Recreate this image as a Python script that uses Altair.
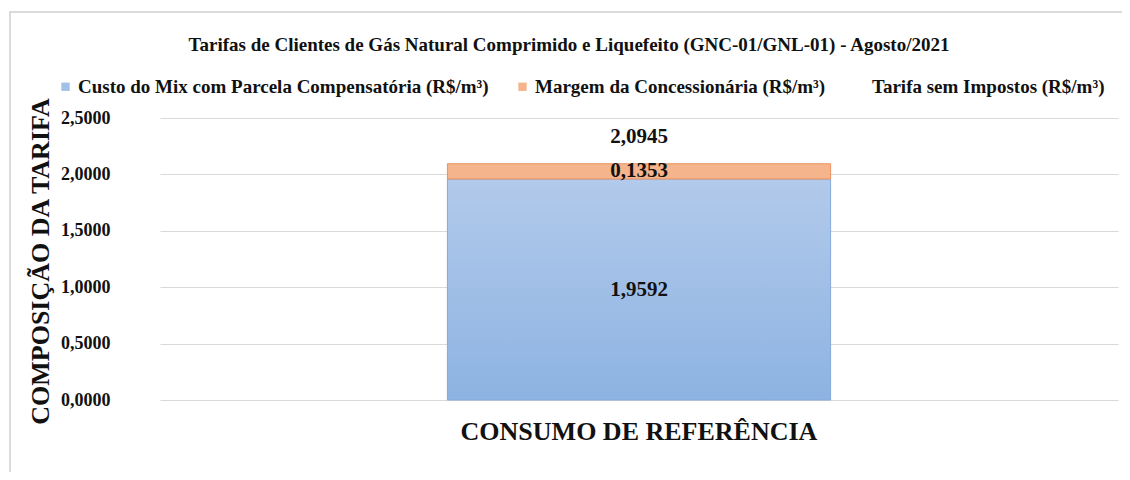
import altair as alt
import pandas as pd

categories = ["CONSUMO DE REFERÊNCIA"]
series = [
    "Custo do Mix com Parcela Compensatória (R$/m³)",
    "Margem da Concessionária (R$/m³)",
    "Tarifa sem Impostos (R$/m³)",
]
custo_mix = [1.9592]
margem = [0.1353]
tarifa_total = [2.0945]
colors = ["#a3c1e7", "#f5b48c", "transparent"]
strokes = ["#86a8d8", "#e8935e"]
blue_stops = ["#b2caeb", "#8db3e2"]
chart_title = "Tarifas de Clientes de Gás Natural Comprimido e Liquefeito (GNC-01/GNL-01) - Agosto/2021"

rows = []
for i, c in enumerate(categories):
    rows.append({"cat": c, "serie": series[0], "valor": custo_mix[i], "ordem": 0})
    rows.append({"cat": c, "serie": series[1], "valor": margem[i], "ordem": 1})
df = pd.DataFrame(rows)
df_total = pd.DataFrame({"cat": categories, "valor": tarifa_total})
df_title = pd.DataFrame({"t": [chart_title]})

FONT = "Liberation Serif"
fmt = "replace(format(datum.valor, '.4f'), '.', ',')"

x_enc = alt.X(
    "cat:N",
    title=None,
    scale=alt.Scale(paddingInner=0, paddingOuter=0.75),
    axis=alt.Axis(
        labelFont=FONT, labelFontSize=26, labelFontWeight="bold", labelColor="#111",
        labelAngle=0, labelPadding=18, ticks=False, domain=False, grid=False, labelLimit=800,
    ),
)
y_scale = alt.Scale(domain=[0, 2.5], nice=False)

base = alt.Chart(df).transform_stack(
    stack="valor", groupby=["cat"], as_=["y0", "y1"], sort=[alt.SortField("ordem")]
).transform_calculate(
    mid="(datum.y0 + datum.y1) / 2", rotulo=fmt
)

legend = alt.Legend(
    title=None, orient="none", direction="horizontal", legendX=-104, legendY=-41,
    symbolType="square", symbolSize=70, symbolStrokeWidth=0,
    labelFont=FONT, labelFontSize=19, labelFontWeight="bold", labelColor="#111",
    labelOffset=3, columnPadding=24, labelLimit=800,
)
color_enc = alt.Color("serie:N", scale=alt.Scale(domain=series, range=colors), legend=legend)

y_enc = alt.Y(
    "y0:Q",
    scale=y_scale,
    title="COMPOSIÇÃO DA TARIFA",
    axis=alt.Axis(
        values=[0, 0.5, 1, 1.5, 2, 2.5],
        labelExpr="replace(format(datum.value, '.4f'), '.', ',')",
        labelFont=FONT, labelFontSize=18, labelFontWeight="bold", labelColor="#111",
        labelPadding=50, ticks=False, domain=False,
        gridColor="#d9d9d9", gridWidth=1,
        titleFont=FONT, titleFontSize=26, titleFontWeight="bold", titleColor="#111",
        titleX=-120, titleY=143, titleAngle=-90, titleAlign="center", titleBaseline="middle",
    ),
)

blue_gradient = alt.Gradient(
    gradient="linear",
    stops=[alt.GradientStop(color=blue_stops[0], offset=0), alt.GradientStop(color=blue_stops[1], offset=1)],
    x1=0, x2=0, y1=0, y2=1,
)

bars_blue = base.transform_filter(alt.datum.ordem == 0).mark_bar(
    stroke=strokes[0], strokeWidth=1
).encode(x=x_enc, y=y_enc, y2="y1:Q", color=color_enc, fill=alt.value(blue_gradient))

bars_orange = base.transform_filter(alt.datum.ordem == 1).mark_bar(
    stroke=strokes[1], strokeWidth=1
).encode(x=x_enc, y=y_enc, y2="y1:Q", color=color_enc)

seg_labels = base.mark_text(
    font=FONT, fontSize=21, fontWeight="bold", color="#111", baseline="middle"
).encode(
    x=alt.X("cat:N"),
    y=alt.Y("mid:Q", scale=y_scale),
    text="rotulo:N",
)

total_labels = alt.Chart(df_total).transform_calculate(rotulo=fmt).mark_text(
    font=FONT, fontSize=21, fontWeight="bold", color="#111", baseline="middle", dy=-27
).encode(
    x=alt.X("cat:N"),
    y=alt.Y("valor:Q", scale=y_scale),
    text="rotulo:N",
)

title_mark = alt.Chart(df_title).mark_text(
    font=FONT, fontSize=19, fontWeight="bold", color="#111", baseline="middle", align="center"
).encode(x=alt.value(409), y=alt.value(-73), text="t:N")

frame = alt.Chart(df_total).mark_rect(fill=None, stroke="#d0d0d0", strokeWidth=1.5).encode(
    x=alt.value(-150), x2=alt.value(990), y=alt.value(-106), y2=alt.value(400)
)

chart = alt.layer(frame, bars_blue, bars_orange, seg_labels, total_labels, title_mark).properties(
    width=958,
    height=282,
    padding={"left": 152, "top": 110, "right": 4, "bottom": 72},
    autosize=alt.AutoSizeParams(type="none"),
    background="white",
).configure_view(stroke=None)

chart.save("out.html", embed_options={"renderer": "svg", "actions": False})
